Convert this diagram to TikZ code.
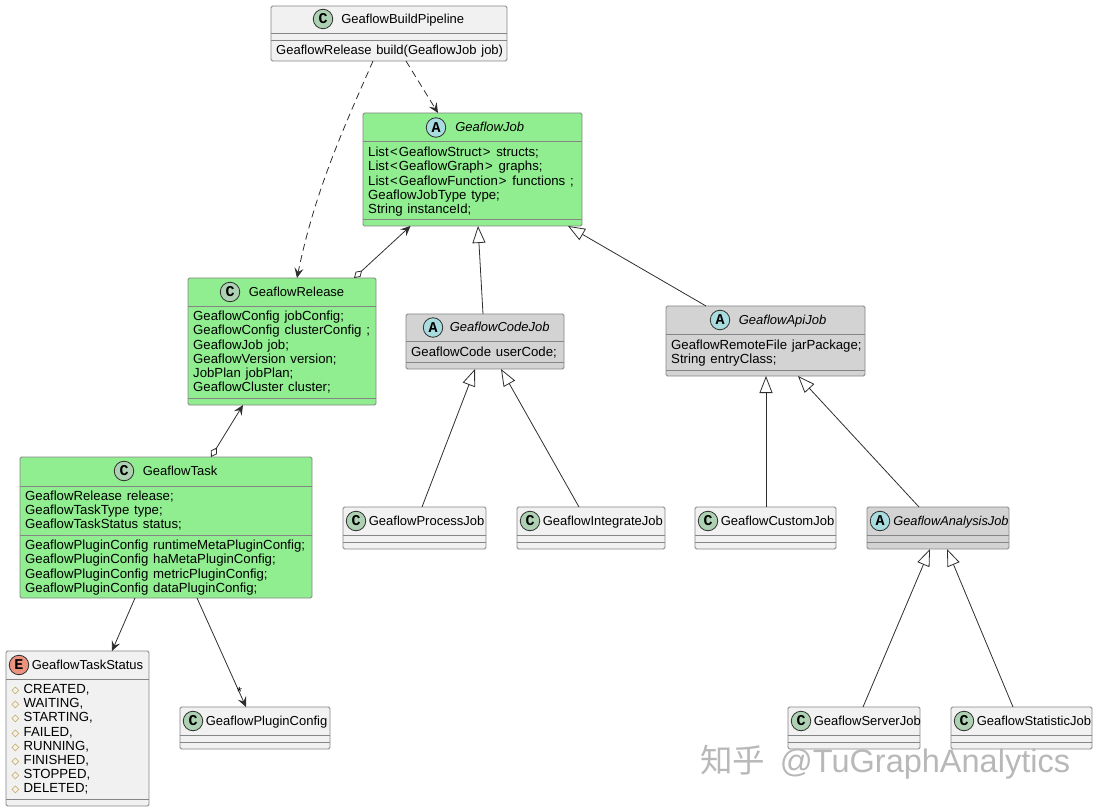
\documentclass[tikz,border=0pt]{standalone}
\usepackage{fontspec}
\setmainfont[WordSpace=1.3]{Liberation Sans}
\setmonofont{Liberation Mono}
\newfontfamily\symfont{DejaVu Sans}
\newfontfamily\cjkfont{Noto Sans CJK SC}
\usetikzlibrary{arrows.meta, positioning}
\definecolor{jobgreen}{HTML}{90EE90}
\definecolor{plainbox}{HTML}{F1F1F1}
\definecolor{graybox}{HTML}{D3D3D3}
\definecolor{edgegray}{HTML}{858585}
\definecolor{linedark}{HTML}{2E2E2E}
\definecolor{iconc}{HTML}{ADD1B2}
\definecolor{icona}{HTML}{A9DCDF}
\definecolor{icone}{HTML}{EB937F}
\definecolor{enumtan}{HTML}{B38D22}
\newcommand{\enumval}[1]{\makebox[12pt][l]{\color{enumtan}\symfont\fontsize{10}{10}\selectfont ◇}#1}
\newcommand{\genopen}{\kern1.5pt<\kern1pt}
\newcommand{\genclose}{\kern1pt>\kern1pt{}}
\tikzset{
  classbox/.style={draw=edgegray, line width=0.9pt, rounded corners=1.5pt, outer sep=0pt, anchor=north west, fill=plainbox},
  divider/.style={draw=edgegray, line width=0.9pt},
  icon/.style={circle, draw=linedark, line width=0.8pt, minimum size=19.5pt, inner sep=0pt, font=\ttfamily\bfseries\fontsize{15}{15}\selectfont},
  title/.style={inner sep=0pt, text height=11pt, text depth=2pt, font=\fontsize{13}{14.2}\selectfont},
  members/.style={inner sep=0pt, anchor=north west, align=left},
  assoc/.style={draw=linedark, line width=0.8pt, -{Stealth[length=10pt,width=9pt,inset=4pt]}},
  depends/.style={assoc, dash pattern=on 7pt off 4.5pt},
  aggreg/.style={draw=linedark, line width=0.8pt, {Diamond[open,length=11pt,width=7pt]}-{Stealth[length=10pt,width=9pt,inset=4pt]}},
  extendsline/.style={draw=linedark, line width=0.8pt, {Triangle[open,length=17pt,width=13pt]}-},
}
\begin{document}
\begin{tikzpicture}[x=1pt, y=-1pt, font=\fontsize{13.2}{14.2}\selectfont]
\useasboundingbox (0,0) rectangle (1098,810);
% top class
\node[classbox, minimum width=236pt, minimum height=55pt] (pipeline) at (271,6) {};
\node[icon, fill=iconc] (pipelineicon) at (323,19) {C};
\node[title, right=8pt of pipelineicon] (pipelinetitle) {GeaflowBuildPipeline};
\node[members, font=\fontsize{13}{14.2}\selectfont] (pipelinemethods) at (276,45) {GeaflowRelease build(GeaflowJob job)};
\draw[divider] ([yshift=-27pt]pipeline.north west) -- ([yshift=-27pt]pipeline.north east);
\draw[divider] ([yshift=-34pt]pipeline.north west) -- ([yshift=-34pt]pipeline.north east);
% green classes
\node[classbox, fill=jobgreen, minimum width=219pt, minimum height=113pt] (job) at (363,113) {};
\node[icon, fill=icona] (jobicon) at (436,127.5) {A};
\node[title, right=9pt of jobicon] (jobtitle) {\itshape GeaflowJob};
\node[members] (jobfields) at (368,147) {List\genopen GeaflowStruct\genclose{} structs;\\List\genopen GeaflowGraph\genclose{} graphs;\\List\genopen GeaflowFunction\genclose{} functions ;\\GeaflowJobType type;\\String instanceId;};
\draw[divider] ([yshift=-28pt]job.north west) -- ([yshift=-28pt]job.north east);
\draw[divider] ([yshift=-106pt]job.north west) -- ([yshift=-106pt]job.north east);
\node[classbox, fill=jobgreen, minimum width=188pt, minimum height=127pt] (release) at (188,278) {};
\node[icon, fill=iconc] (releaseicon) at (230,292) {C};
\node[title, right=8.5pt of releaseicon] (releasetitle) {GeaflowRelease};
\node[members] (releasefields) at (193,311) {GeaflowConfig jobConfig;\\GeaflowConfig clusterConfig ;\\GeaflowJob job;\\GeaflowVersion version;\\JobPlan jobPlan;\\GeaflowCluster cluster;};
\draw[divider] ([yshift=-28pt]release.north west) -- ([yshift=-28pt]release.north east);
\draw[divider] ([yshift=-120pt]release.north west) -- ([yshift=-120pt]release.north east);
\node[classbox, fill=jobgreen, minimum width=292pt, minimum height=141pt] (task) at (20,457) {};
\node[icon, fill=iconc] (taskicon) at (124,471) {C};
\node[title, right=8.5pt of taskicon] (tasktitle) {GeaflowTask};
\node[members] (taskfields) at (25,490.5) {GeaflowRelease release;\\GeaflowTaskType type;\\GeaflowTaskStatus status;};
\node[members] (taskmethods) at (25,540) {GeaflowPluginConfig runtimeMetaPluginConfig;\\GeaflowPluginConfig haMetaPluginConfig;\\GeaflowPluginConfig metricPluginConfig;\\GeaflowPluginConfig dataPluginConfig;};
\draw[divider] ([yshift=-29pt]task.north west) -- ([yshift=-29pt]task.north east);
\draw[divider] ([yshift=-78pt]task.north west) -- ([yshift=-78pt]task.north east);
% task neighbours
\node[classbox, minimum width=143pt, minimum height=155pt] (status) at (6,651) {};
\node[icon, fill=icone] (statusicon) at (19,665) {E};
\node[title, right=2.5pt of statusicon] (statustitle) {GeaflowTaskStatus};
\node[members] (statusvalues) at (11.5,684) {\enumval{CREATED,}\\\enumval{WAITING,}\\\enumval{STARTING,}\\\enumval{FAILED,}\\\enumval{RUNNING,}\\\enumval{FINISHED,}\\\enumval{STOPPED,}\\\enumval{DELETED;}};
\draw[divider] ([yshift=-28pt]status.north west) -- ([yshift=-28pt]status.north east);
\draw[divider] ([yshift=-148pt]status.north west) -- ([yshift=-148pt]status.north east);
\node[classbox, minimum width=150pt, minimum height=42pt] (plugin) at (180,707) {};
\node[icon, fill=iconc] (pluginicon) at (193,721) {C};
\node[title, right=2.5pt of pluginicon] (plugintitle) {GeaflowPluginConfig};
\draw[divider] ([yshift=-28pt]plugin.north west) -- ([yshift=-28pt]plugin.north east);
\draw[divider] ([yshift=-35pt]plugin.north west) -- ([yshift=-35pt]plugin.north east);
% job subclasses
\node[classbox, fill=graybox, minimum width=158pt, minimum height=55pt] (codejob) at (406,314) {};
\node[icon, fill=icona] (codejobicon) at (433,327.5) {A};
\node[title, right=6.5pt of codejobicon] (codejobtitle) {\itshape GeaflowCodeJob};
\node[members] (codejobfields) at (411,347) {GeaflowCode userCode;};
\draw[divider] ([yshift=-27pt]codejob.north west) -- ([yshift=-27pt]codejob.north east);
\draw[divider] ([yshift=-48pt]codejob.north west) -- ([yshift=-48pt]codejob.north east);
\node[classbox, fill=graybox, minimum width=199pt, minimum height=70pt] (apijob) at (666,306) {};
\node[icon, fill=icona] (apijobicon) at (720,320) {A};
\node[title, right=8.5pt of apijobicon] (apijobtitle) {\itshape GeaflowApiJob};
\node[members] (apijobfields) at (671,339.5) {GeaflowRemoteFile jarPackage;\\String entryClass;};
\draw[divider] ([yshift=-28pt]apijob.north west) -- ([yshift=-28pt]apijob.north east);
\draw[divider] ([yshift=-64pt]apijob.north west) -- ([yshift=-64pt]apijob.north east);
% leaf classes
\node[classbox, minimum width=143pt, minimum height=42pt] (processjob) at (343,507) {};
\node[icon, fill=iconc] (processjobicon) at (356,521) {C};
\node[title, right=2.5pt of processjobicon] (processjobtitle) {GeaflowProcessJob};
\draw[divider] ([yshift=-28pt]processjob.north west) -- ([yshift=-28pt]processjob.north east);
\draw[divider] ([yshift=-35pt]processjob.north west) -- ([yshift=-35pt]processjob.north east);
\node[classbox, minimum width=148pt, minimum height=42pt] (integratejob) at (517,507) {};
\node[icon, fill=iconc] (integratejobicon) at (530,521) {C};
\node[title, right=2.5pt of integratejobicon] (integratejobtitle) {GeaflowIntegrateJob};
\draw[divider] ([yshift=-28pt]integratejob.north west) -- ([yshift=-28pt]integratejob.north east);
\draw[divider] ([yshift=-35pt]integratejob.north west) -- ([yshift=-35pt]integratejob.north east);
\node[classbox, minimum width=141pt, minimum height=42pt] (customjob) at (695,507) {};
\node[icon, fill=iconc] (customjobicon) at (708,521) {C};
\node[title, right=2.5pt of customjobicon] (customjobtitle) {GeaflowCustomJob};
\draw[divider] ([yshift=-28pt]customjob.north west) -- ([yshift=-28pt]customjob.north east);
\draw[divider] ([yshift=-35pt]customjob.north west) -- ([yshift=-35pt]customjob.north east);
\node[classbox, fill=graybox, minimum width=142pt, minimum height=42pt] (analysisjob) at (867,507) {};
\node[icon, fill=icona] (analysisjobicon) at (880,521) {A};
\node[title, font=\fontsize{12.8}{14.2}\selectfont, right=3pt of analysisjobicon] (analysisjobtitle) {\itshape GeaflowAnalysisJob};
\draw[divider] ([yshift=-28pt]analysisjob.north west) -- ([yshift=-28pt]analysisjob.north east);
\draw[divider] ([yshift=-35pt]analysisjob.north west) -- ([yshift=-35pt]analysisjob.north east);
\node[classbox, minimum width=132pt, minimum height=42pt] (serverjob) at (788,707) {};
\node[icon, fill=iconc] (serverjobicon) at (801,721) {C};
\node[title, right=2.5pt of serverjobicon] (serverjobtitle) {GeaflowServerJob};
\draw[divider] ([yshift=-28pt]serverjob.north west) -- ([yshift=-28pt]serverjob.north east);
\draw[divider] ([yshift=-35pt]serverjob.north west) -- ([yshift=-35pt]serverjob.north east);
\node[classbox, minimum width=141pt, minimum height=42pt] (statisticjob) at (951,707) {};
\node[icon, fill=iconc] (statisticjobicon) at (964,721) {C};
\node[title, right=2.5pt of statisticjobicon] (statisticjobtitle) {GeaflowStatisticJob};
\draw[divider] ([yshift=-28pt]statisticjob.north west) -- ([yshift=-28pt]statisticjob.north east);
\draw[divider] ([yshift=-35pt]statisticjob.north west) -- ([yshift=-35pt]statisticjob.north east);
% connectors
\draw[depends] ([xshift=102pt]pipeline.south west) .. controls (345,125) and (315,190) .. ([xshift=109pt]release.north west);
\draw[depends] ([xshift=135pt]pipeline.south west) -- ([xshift=75pt]job.north west);
\draw[aggreg] ([xshift=166pt]release.north west) -- ([xshift=47.5pt]job.south west);
\draw[aggreg] ([xshift=191pt]task.north west) -- ([xshift=55pt]release.south west);
\draw[assoc] ([xshift=115pt]task.south west) -- ([xshift=106pt]status.north west);
\draw[assoc] ([xshift=177pt]task.south west) -- node[pos=.865, inner sep=0pt] (pluginmark) {*} ([xshift=66pt]plugin.north west);
\draw[extendsline] ([xshift=115pt]job.south west) -- ([xshift=77pt]codejob.north west);
\draw[extendsline] ([xshift=205pt]job.south west) -- ([xshift=40pt]apijob.north west);
\draw[extendsline] ([xshift=69pt]codejob.south west) -- ([xshift=79pt]processjob.north west);
\draw[extendsline] ([xshift=95pt]codejob.south west) -- ([xshift=62pt]integratejob.north west);
\draw[extendsline] ([xshift=100pt]apijob.south west) -- ([xshift=71pt]customjob.north west);
\draw[extendsline] ([xshift=132pt]apijob.south west) -- ([xshift=52pt]analysisjob.north west);
\draw[extendsline] ([xshift=63pt]analysisjob.south west) -- ([xshift=75pt]serverjob.north west);
\draw[extendsline] ([xshift=80pt]analysisjob.south west) -- ([xshift=62pt]statisticjob.north west);
% watermark
\node[inner sep=0pt, anchor=west, text=black!28, font=\fontsize{32.5}{33}\selectfont] (watermark) at (700,762) {{\cjkfont 知乎}\kern3pt{} @TuGraphAnalytics};
\end{tikzpicture}
\end{document}
